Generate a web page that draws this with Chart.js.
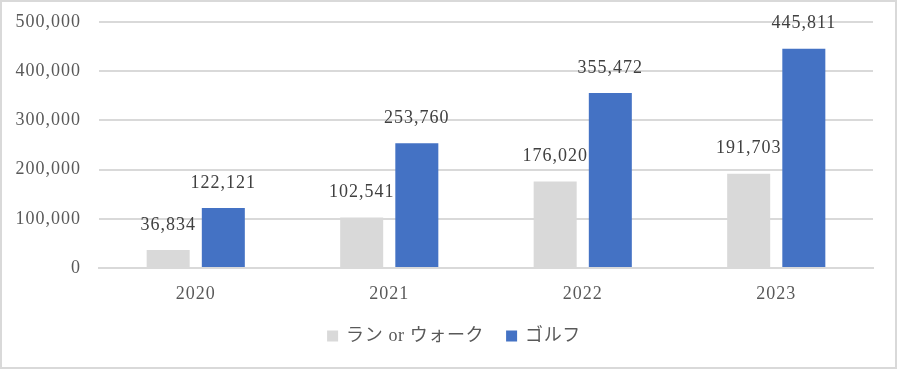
<!DOCTYPE html>
<html lang="ja">
<head>
  <meta charset="UTF-8">
  <title>ラン or ウォーク / ゴルフ</title>
  <script src="https://cdn.jsdelivr.net/npm/chart.js"></script>
  <style>
    body { margin: 0; background: #fff; }
    canvas { display: block; }
  </style>
</head>
<body>
  <canvas id="chart" width="897" height="369"></canvas>
  <script>
    // data
    const years = ['2020', '2021', '2022', '2023'];
    const runWalk = [36834, 102541, 176020, 191703];
    const golf = [122121, 253760, 355472, 445811];
    const seriesNames = ['ラン or ウォーク', 'ゴルフ'];

    const FONT = '"Liberation Serif", "Noto Sans CJK JP", serif';

    // the reference font is wider, so space the letters a little
    const spacing = {
      id: 'spacing',
      beforeUpdate(chart) { chart.ctx.letterSpacing = '1px'; },
      beforeDraw(chart) { chart.ctx.letterSpacing = '1px'; }
    };

    // values drawn above each bar
    const valueLabels = {
      id: 'valueLabels',
      afterDatasetsDraw(chart) {
        const ctx = chart.ctx;
        ctx.save();
        ctx.font = '18px ' + FONT;
        ctx.fillStyle = '#404040';
        ctx.textAlign = 'center';
        ctx.textBaseline = 'middle';
        chart.data.datasets.forEach((ds, i) => {
          chart.getDatasetMeta(i).data.forEach((bar, j) => {
            ctx.fillText(ds.data[j].toLocaleString('en-US'), bar.x, bar.y - 25);
          });
        });
        ctx.restore();
      }
    };

    // legend below the axis, boxes + names
    const bottomLegend = {
      id: 'bottomLegend',
      afterDraw(chart) {
        const ctx = chart.ctx;
        ctx.save();
        ctx.font = '18px ' + FONT;
        ctx.letterSpacing = '0.6px';
        ctx.textBaseline = 'middle';
        const box = 11, gapText = 8, gapItem = 22, cy = 336, cx = 454;
        const items = chart.data.datasets.map(ds => ({
          text: ds.label, color: ds.backgroundColor, w: ctx.measureText(ds.label).width
        }));
        let total = 0;
        items.forEach((it, i) => { total += box + gapText + it.w + (i ? gapItem : 0); });
        let x = cx - total / 2;
        items.forEach(it => {
          ctx.fillStyle = it.color;
          ctx.fillRect(x, cy - box / 2, box, box);
          ctx.fillStyle = '#595959';
          ctx.fillText(it.text, x + box + gapText, cy);
          x += box + gapText + it.w + gapItem;
        });
        ctx.restore();
      }
    };

    // thin grey frame round the whole picture
    const frame = {
      id: 'frame',
      afterDraw(chart) {
        const ctx = chart.ctx;
        ctx.save();
        ctx.strokeStyle = '#d9d9d9';
        ctx.lineWidth = 2;
        ctx.strokeRect(1, 1, chart.width - 2, chart.height - 2);
        ctx.restore();
      }
    };

    new Chart(document.getElementById('chart'), {
      type: 'bar',
      data: {
        labels: years,
        datasets: [
          { label: seriesNames[0], data: runWalk, backgroundColor: '#d9d9d9' },
          { label: seriesNames[1], data: golf, backgroundColor: '#4472c4' }
        ]
      },
      options: {
        responsive: false,
        animation: false,
        devicePixelRatio: 1,
        categoryPercentage: 0.57,
        barPercentage: 0.78,
        layout: { padding: { left: 0, right: 24, top: 22, bottom: 51 } },
        scales: {
          x: {
            grid: { display: false },
            border: { color: '#d9d9d9', width: 2 },
            ticks: { color: '#595959', font: { family: FONT, size: 18 }, padding: 7 },
            afterFit(scale) { scale.height = 50; }
          },
          y: {
            min: 0,
            max: 500000,
            border: { display: false },
            // invisible tick marks keep the labels 18px off the plot
            grid: { color: '#d9d9d9', lineWidth: 2, drawTicks: true, tickLength: 18, tickColor: 'rgba(0,0,0,0)' },
            ticks: {
              stepSize: 100000,
              color: '#595959',
              padding: 0,
              font: { family: FONT, size: 18 },
              callback: v => v.toLocaleString('en-US')
            },
            afterFit(scale) { scale.width = 99; }
          }
        },
        plugins: {
          tooltip: { enabled: false },
          legend: { display: false }
        }
      },
      plugins: [spacing, valueLabels, bottomLegend, frame]
    });
  </script>
</body>
</html>
